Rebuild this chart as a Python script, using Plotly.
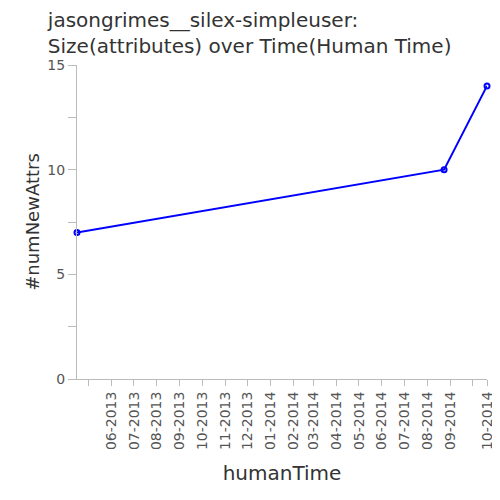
import plotly.graph_objs as go

# data
human_time = ['2013-04-15', '2014-08-24', '2014-10-21']
num_new_attrs = [7, 10, 14]

month_ticks = ['2013-05-01', '2013-06-01', '2013-07-01', '2013-08-01', '2013-09-01',
               '2013-10-01', '2013-11-01', '2013-12-01', '2014-01-01', '2014-02-01',
               '2014-03-01', '2014-04-01', '2014-05-01', '2014-06-01', '2014-07-01',
               '2014-08-01', '2014-09-01', '2014-10-01', '2014-10-21']
month_labels = ['', '06-2013', '07-2013', '08-2013', '09-2013', '10-2013', '11-2013',
                '12-2013', '01-2014', '02-2014', '03-2014', '04-2014', '05-2014',
                '06-2014', '07-2014', '08-2014', '09-2014', '', '10-2014']

y_ticks = [0, 2.5, 5, 7.5, 10, 12.5, 15]
y_labels = ['0', '', '5', '', '10', '', '15']

font = 'DejaVu Sans'
axis_grey = '#bbbbbb'

data = [go.Scatter(x=human_time, y=num_new_attrs, mode='lines+markers',
                   line={'color': '#0000ff', 'width': 2},
                   marker={'symbol': 'circle-open', 'size': 5, 'color': '#0000ff',
                           'line': {'width': 2, 'color': '#0000ff'}},
                   cliponaxis=False, showlegend=False)]

# page body has an 8px margin, so the figure is a bit smaller than the window
layout = go.Layout(
    width=492, height=492,
    paper_bgcolor='white', plot_bgcolor='white',
    margin={'l': 69, 'r': 13, 't': 57, 'b': 121},
    font={'family': font, 'color': '#333333'},
    title={'text': 'jasongrimes__silex-simpleuser:<br>Size(attributes) over Time(Human Time)',
           'font': {'size': 20, 'color': '#333333'},
           'xref': 'container', 'yref': 'container',
           'x': 0.081, 'xanchor': 'left', 'y': 0.962, 'yanchor': 'top'},
    xaxis={'type': 'date', 'range': [human_time[0], human_time[-1]], 'automargin': False,
           'tickmode': 'array', 'tickvals': month_ticks, 'ticktext': month_labels,
           'tickangle': -90, 'ticks': 'outside', 'ticklen': 6, 'tickcolor': axis_grey,
           'tickfont': {'size': 14, 'color': '#555555'},
           'showline': True, 'linecolor': axis_grey, 'linewidth': 1,
           'showgrid': False, 'zeroline': False,
           'title': {'text': 'humanTime', 'font': {'size': 20, 'color': '#333333'},
                     'standoff': 16}},
    yaxis={'range': [0, 15], 'automargin': False,
           'tickmode': 'array', 'tickvals': y_ticks, 'ticktext': y_labels,
           'ticks': 'outside', 'ticklen': 8, 'tickcolor': axis_grey,
           'tickfont': {'size': 14, 'color': '#555555'},
           'showline': True, 'linecolor': axis_grey, 'linewidth': 1,
           'showgrid': False, 'zeroline': False,
           'title': {'text': '#numNewAttrs', 'font': {'size': 18, 'color': '#333333'},
                     'standoff': 3}},
)

fig = go.Figure(data=data, layout=layout)
fig.write_html('out.html')
